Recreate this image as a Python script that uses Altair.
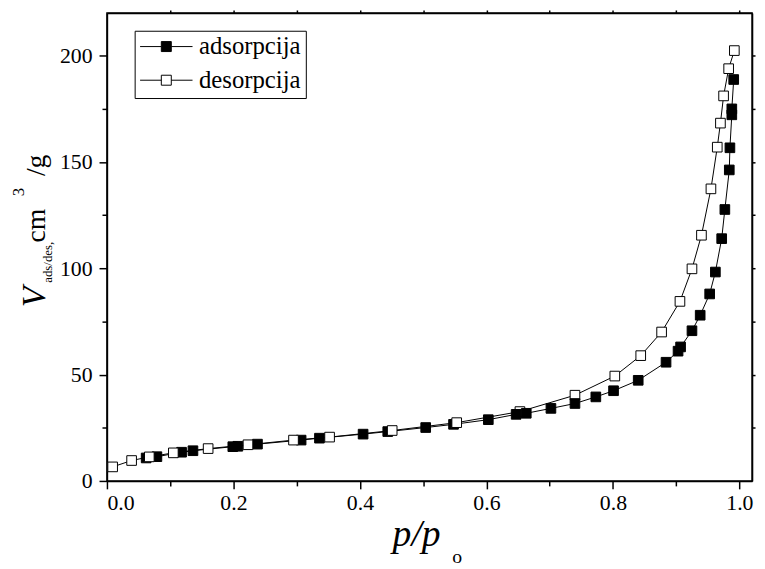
import altair as alt
import pandas as pd

# ---------------- data ----------------
series_names = ["adsorpcija", "desorpcija"]

ads_x = [0.062, 0.079, 0.118, 0.136, 0.199, 0.207, 0.238, 0.307, 0.336, 0.405,
         0.444, 0.504, 0.548, 0.603, 0.647, 0.663, 0.702, 0.740, 0.773, 0.801,
         0.840, 0.884, 0.903, 0.907, 0.925, 0.938, 0.953, 0.962, 0.972, 0.977,
         0.984, 0.985, 0.988, 0.988, 0.991]
ads_y = [10.8, 11.4, 13.5, 14.2, 16.1, 16.3, 17.3, 19.2, 20.1, 22.0,
         23.2, 25.1, 26.6, 28.8, 31.3, 31.8, 34.1, 36.4, 39.5, 42.4,
         47.3, 55.8, 61.0, 63.0, 70.6, 77.9, 87.9, 98.2, 113.9, 127.6,
         146.2, 156.6, 172.1, 174.9, 188.7]

des_x = [0.992, 0.983, 0.975, 0.970, 0.965, 0.955, 0.940, 0.925, 0.906, 0.877,
         0.844, 0.803, 0.740, 0.653, 0.553, 0.451, 0.352, 0.295, 0.223, 0.160,
         0.105, 0.067, 0.039, 0.009]
des_y = [202.3, 193.8, 181.0, 168.2, 156.9, 137.3, 115.5, 99.7, 84.4, 70.0,
         58.9, 49.3, 40.3, 32.6, 27.4, 23.7, 20.6, 19.2, 17.0, 15.2,
         13.2, 11.3, 9.6, 6.6]

x_major_ticks = [0.0, 0.2, 0.4, 0.6, 0.8, 1.0]
x_minor_ticks = [0.1, 0.3, 0.5, 0.7, 0.9]
y_major_ticks = [0, 50, 100, 150, 200]
y_minor_ticks = [25, 75, 125, 175]
x_all_ticks = [0.1, 0.2, 0.3, 0.4, 0.5, 0.6, 0.7, 0.8, 0.9, 1.0]
y_all_ticks = [25, 50, 75, 100, 125, 150, 175, 200]

rows = []
for i, (a, b) in enumerate(zip(ads_x, ads_y)):
    rows.append({"series": series_names[0], "p": a, "V": b, "idx": i})
for i, (a, b) in enumerate(zip(des_x, des_y)):
    rows.append({"series": series_names[1], "p": a, "V": b, "idx": i})
df = pd.DataFrame(rows)

FONT = "Liberation Serif, Times New Roman, serif"
W, H = 652, 473

xscale = alt.Scale(domain=[0, 1.02], nice=False, zero=False)
yscale = alt.Scale(domain=[0, 220], nice=False, zero=False)

x_major = alt.Axis(values=x_major_ticks, format=".1f", tickSize=8, title=None,
                   labelPadding=4, orient="bottom", labelFont=FONT)
x_minor = alt.Axis(values=x_minor_ticks, tickSize=5, title=None, labels=False,
                   domain=False, orient="bottom")
y_major = alt.Axis(values=y_major_ticks, format="d", tickSize=8, title=None,
                   labelPadding=7, orient="left", labelFont=FONT)
y_minor = alt.Axis(values=y_minor_ticks, tickSize=5, title=None, labels=False,
                   domain=False, orient="left")
x_top = alt.Axis(values=x_all_ticks, tickSize=3, title=None, labels=False, orient="top")
y_right = alt.Axis(values=y_all_ticks, tickSize=3, title=None, labels=False, orient="right")

base = alt.Chart(df)

lines = base.mark_line(color="black", strokeWidth=1).encode(
    x=alt.X("p:Q", scale=xscale, axis=x_major),
    y=alt.Y("V:Q", scale=yscale, axis=y_major),
    detail="series:N",
    order="idx:Q",
)

legend_path = "M-1,0H-0.19M0.19,0H1M-0.19,-0.19H0.19V0.19H-0.19Z"

points = base.mark_point(shape="square", size=95, filled=True, stroke="black",
                         strokeWidth=1, opacity=1).encode(
    x=alt.X("p:Q", scale=xscale, axis=x_minor),
    y=alt.Y("V:Q", scale=yscale, axis=y_minor),
    fill=alt.Fill("series:N", scale=alt.Scale(domain=series_names, range=["black", "white"]),
                  legend=alt.Legend(title=None, orient="none", legendX=28, legendY=18,
                                    symbolType=legend_path, symbolSize=2809,
                                    symbolStrokeColor="black", symbolStrokeWidth=1,
                                    clipHeight=22, rowPadding=9, padding=5,
                                    labelOffset=6, labelFont=FONT, labelFontSize=25,
                                    labelColor="black", strokeColor="black",
                                    fillColor="white")),
    order="idx:Q",
)

frame_axes = base.mark_point(opacity=0).encode(
    x=alt.X("p:Q", scale=xscale, axis=x_top),
    y=alt.Y("V:Q", scale=yscale, axis=y_right),
)

one = pd.DataFrame({"k": [0]})


def label(text, x, y, size, italic=False, angle=0, baseline="alphabetic"):
    return alt.Chart(one).mark_text(
        text=text, font=FONT, fontSize=size, fontStyle="italic" if italic else "normal",
        angle=angle, align="center", baseline=baseline, color="black",
    ).encode(x=alt.value(x), y=alt.value(y))


titles = [
    label("p/p", 313, 539, 38, italic=True),
    label("o", 354, 550, 20, baseline="middle"),
    label("V", -63, 287, 34, italic=True, angle=270),
    label("ads/des,", -56, 252, 13, angle=270),
    label("cm", -63, 215, 28, angle=270),
    label("3", -84, 181, 17, angle=270),
    label("/g", -63, 154, 28, angle=270),
]

chart = alt.layer(lines, points, frame_axes, *titles).resolve_axis(
    x="independent", y="independent"
).properties(
    width=W, height=H,
    padding={"left": 100, "top": 2, "right": 5, "bottom": 84},
    autosize=alt.AutoSizeParams(type="none"),
).configure(
    font=FONT
).configure_view(
    stroke="black", strokeWidth=1.5
).configure_axis(
    grid=False, domainColor="black", domainWidth=1.5, tickColor="black", tickWidth=1.5,
    labelFont=FONT, labelFontSize=22, labelColor="black",
).configure_legend(
    labelFont=FONT
)

chart.save("out.html", embed_options={"renderer": "svg", "actions": False})
